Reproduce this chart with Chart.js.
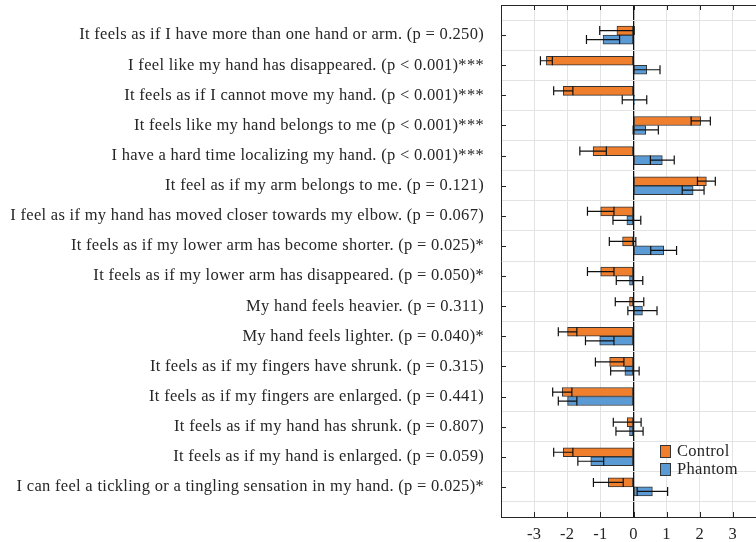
<!DOCTYPE html>
<html>
<head>
<meta charset="utf-8">
<script src="https://cdn.jsdelivr.net/npm/chart.js@4"></script>
<style>
  html, body { margin: 0; padding: 0; background: #fff; overflow: hidden; }
  #wrap { position: relative; width: 770px; height: 542px; }
</style>
</head>
<body>
<div id="wrap"><canvas id="canvas_items"></canvas></div>
<script>
'use strict';

var items = [
    'It feels as if I have more than one hand or arm. (p = 0.250)',
    'I feel like my hand has disappeared. (p < 0.001)***',
    'It feels as if I cannot move my hand. (p < 0.001)***',
    'It feels like my hand belongs to me (p < 0.001)***',
    'I have a hard time localizing my hand. (p < 0.001)***',
    'It feel as if my arm belongs to me. (p = 0.121)',
    'I feel as if my hand has moved closer towards my elbow. (p = 0.067)',
    'It feels as if my lower arm has become shorter. (p = 0.025)*',
    'It feels as if my lower arm has disappeared. (p = 0.050)*',
    'My hand feels heavier. (p = 0.311)',
    'My hand feels lighter. (p = 0.040)*',
    'It feels as if my fingers have shrunk. (p = 0.315)',
    'It feels as if my fingers are enlarged. (p = 0.441)',
    'It feels as if my hand has shrunk. (p = 0.807)',
    'It feels as if my hand is enlarged. (p = 0.059)',
    'I can feel a tickling or a tingling sensation in my hand. (p = 0.025)*'
];

var controlMean = [-0.50, -2.63, -2.12, 2.03, -1.22, 2.20, -0.99, -0.33, -0.99, -0.12, -1.99, -0.72, -2.15, -0.19, -2.12, -0.76];
var controlErr  = [ 0.52,  0.18,  0.29, 0.29,  0.40, 0.27,  0.40,  0.40,  0.40,  0.43,  0.28,  0.43,  0.29,  0.42,  0.29,  0.45];
var phantomMean = [-0.92,  0.40,  0.03, 0.37,  0.87, 1.80, -0.20,  0.91, -0.12,  0.27, -1.02, -0.26, -1.99, -0.12, -1.29,  0.57];
var phantomErr  = [ 0.50,  0.40,  0.37, 0.38,  0.36, 0.33,  0.42,  0.39,  0.40,  0.44,  0.43,  0.43,  0.28,  0.41,  0.39,  0.46];

var xTicks = [-3, -2, -1, 0, 1, 2, 3];

// one empty slot above and below so the rows sit inside the box
var labels = [''].concat(items, ['']);
function pad(arr) { return [null].concat(arr, [null]); }

var serif = '"Liberation Serif", "DejaVu Serif", serif';

// error bars with caps, drawn over the bars
var errorBars = {
    id : 'errorBars',
    afterDatasetsDraw : function(chart) {
        var ctx = chart.ctx, x = chart.scales.x;
        ctx.save();
        ctx.strokeStyle = '#111';
        ctx.lineWidth   = 1.2;
        chart.data.datasets.forEach(function(ds, di) {
            var meta = chart.getDatasetMeta(di);
            meta.data.forEach(function(bar, i) {
                var m = ds.data[i], e = ds.errors[i];
                if (m === null || e === undefined) return;
                var x1 = x.getPixelForValue(m - e),
                    x2 = x.getPixelForValue(m + e),
                    y  = bar.y,
                    h  = bar.height / 2;
                ctx.beginPath();
                ctx.moveTo(x1, y); ctx.lineTo(x2, y);
                ctx.moveTo(x1, y - h); ctx.lineTo(x1, y + h);
                ctx.moveTo(x2, y - h); ctx.lineTo(x2, y + h);
                ctx.stroke();
            });
        });
        ctx.restore();
    }
};

// box top line, inward tick marks and the legend
var frame = {
    id : 'frame',
    beforeDraw : function(chart) {
        chart.ctx.letterSpacing = '0.3px';
    },
    afterDraw : function(chart) {
        var ctx = chart.ctx, a = chart.chartArea,
            x = chart.scales.x, y = chart.scales.y;
        ctx.save();
        ctx.strokeStyle = '#262626';
        ctx.lineWidth   = 1;
        ctx.beginPath();
        ctx.moveTo(a.left, a.top + 0.5); ctx.lineTo(a.right, a.top + 0.5);
        xTicks.forEach(function(v) {
            var px = Math.round(x.getPixelForValue(v)) + 0.5;
            ctx.moveTo(px, a.top); ctx.lineTo(px, a.top + 5);
            ctx.moveTo(px, a.bottom); ctx.lineTo(px, a.bottom - 5);
        });
        items.forEach(function(t, i) {
            var py = Math.round(y.getPixelForValue(i + 1)) + 0.5;
            ctx.moveTo(a.left, py); ctx.lineTo(a.left + 5, py);
        });
        ctx.stroke();

        var lx = 660, ly = 445;
        chart.data.datasets.forEach(function(ds, di) {
            var by = ly + di * 18;
            ctx.fillStyle   = ds.backgroundColor;
            ctx.strokeStyle = '#333';
            ctx.fillRect(lx, by, 10, 12);
            ctx.strokeRect(lx + 0.5, by + 0.5, 10, 12);
            ctx.fillStyle    = '#262626';
            ctx.font         = '16.5px ' + serif;
            ctx.textBaseline = 'middle';
            ctx.textAlign    = 'left';
            ctx.fillText(ds.label, lx + 17, by + 7);
        });
        ctx.restore();
    }
};

var datosItems = {
    type : 'bar',

    data : {
        labels   : labels,
        datasets : [{
            label           : 'Control',
            data            : pad(controlMean),
            errors          : pad(controlErr),
            backgroundColor : '#EF7F2D',
            borderColor     : '#333333',
            borderWidth     : 1,
            borderSkipped   : false,
            barThickness    : 9,
        }, {
            label           : 'Phantom',
            data            : pad(phantomMean),
            errors          : pad(phantomErr),
            backgroundColor : '#5B9BD5',
            borderColor     : '#333333',
            borderWidth     : 1,
            borderSkipped   : false,
            barThickness    : 9,
        }]
    },

    options : {
        indexAxis           : 'y',
        responsive          : true,
        maintainAspectRatio : false,
        animation           : false,
        layout              : { autoPadding : false, padding : { top : 5, right : 4, left : 0, bottom : 0 } },
        plugins : {
            legend  : { display : false },
            tooltip : { enabled : false },
        },
        scales : {
            x : {
                min    : -4,
                max    : 4,
                border : { display : true, color : '#262626', width : 1 },
                grid   : {
                    drawTicks : false,
                    color     : function(c) { return c.tick && c.tick.value === 0 ? '#111' : '#e3e3e3'; },
                    lineWidth : function(c) { return c.tick && c.tick.value === 0 ? 1.3 : 1; },
                },
                ticks  : {
                    stepSize : 1,
                    padding  : 8,
                    color    : '#262626',
                    font     : { family : serif, size : 16.5 },
                    callback : function(v) { return xTicks.indexOf(v) >= 0 ? String(v) : ''; },
                },
                afterFit : function(s) {
                    s.height = 25;
                    s.paddingLeft = 0;
                    s.paddingRight = 0;
                },
            },
            y : {
                offset : false,
                border : { display : true, color : '#262626', width : 1 },
                grid   : { drawTicks : false, color : '#e3e3e3' },
                ticks  : {
                    autoSkip : false,
                    padding  : 17,
                    color    : '#262626',
                    font     : { family : serif, size : 16.5 },
                },
                afterFit : function(s) {
                    s.width = 501;
                    s.paddingTop = 0;
                    s.paddingBottom = 0;
                },
            }
        }
    },

    plugins : [errorBars, frame]
};

var canvasItems = document.getElementById('canvas_items').getContext('2d');
window.items = new Chart(canvasItems, datosItems);
</script>
</body>
</html>
